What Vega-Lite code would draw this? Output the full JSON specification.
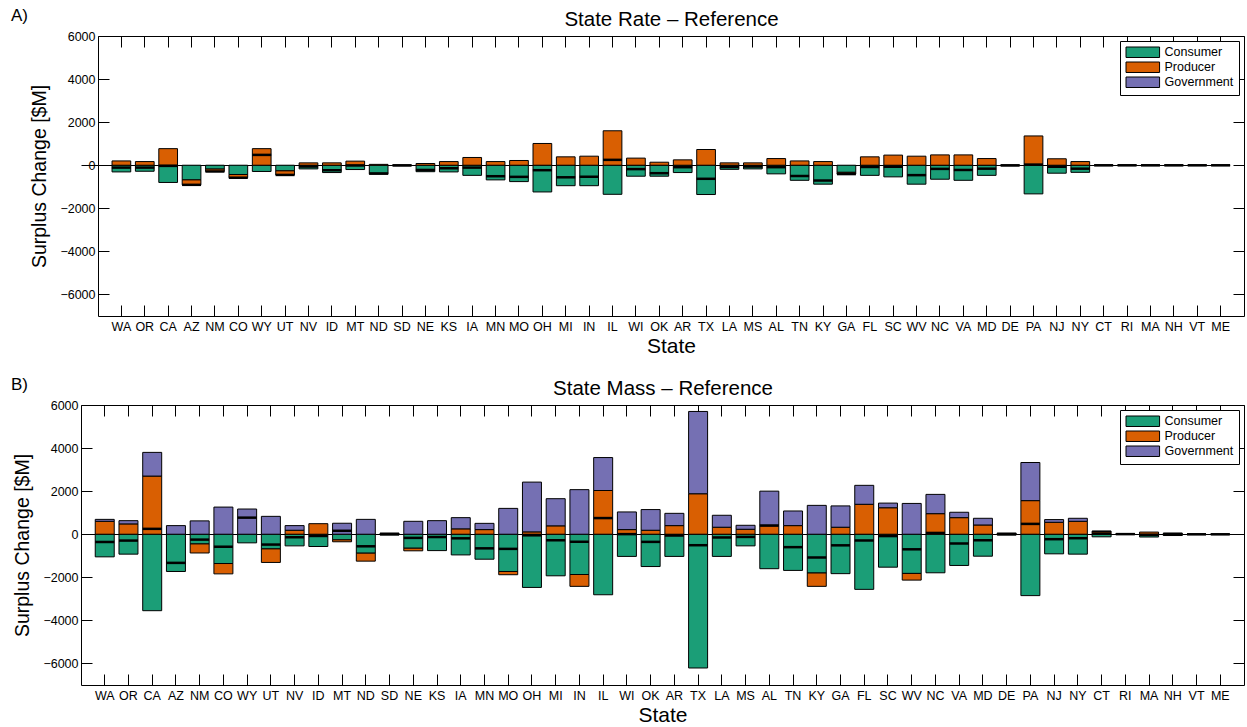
{
  "$schema": "https://vega.github.io/schema/vega-lite/v6.json",
  "padding": {"left": 11, "top": 6, "right": 1, "bottom": 0},
  "config": {
    "font": "Liberation Sans",
    "view": {"stroke": null},
    "axis": {
      "domainColor": "#000", "domainWidth": 1,
      "tickColor": "#000", "tickWidth": 1, "tickSize": -11,
      "labelColor": "#000", "labelFontSize": 12.5, "labelFont": "Liberation Sans",
      "titleColor": "#000", "titleFontWeight": "normal", "titleFont": "Liberation Sans",
      "grid": false
    },
    "legend": {
      "orient": "top-right", "offset": 5, "padding": 5,
      "fillColor": "#fff", "strokeColor": "#000", "strokeWidth": 1, "cornerRadius": 0,
      "title": null, "labelFontSize": 12.5, "labelColor": "#000", "labelFont": "Liberation Sans",
      "symbolType": "M-1,-1H5.4V1H-1Z", "symbolSize": 110,
      "symbolStrokeColor": "#000", "symbolStrokeWidth": 1, "symbolOpacity": 1,
      "labelOffset": 27, "rowPadding": 0
    },
    "title": {"color": "#000", "fontWeight": "normal", "font": "Liberation Sans"}
  },
  "data": {
    "values": [
      {"panel": "A", "state": "WA", "component": "Consumer", "value": -310}, {"panel": "A", "state": "WA", "component": "Producer", "value": 200},
      {"panel": "A", "state": "OR", "component": "Consumer", "value": -280}, {"panel": "A", "state": "OR", "component": "Producer", "value": 170},
      {"panel": "A", "state": "CA", "component": "Consumer", "value": -800}, {"panel": "A", "state": "CA", "component": "Producer", "value": 770},
      {"panel": "A", "state": "AZ", "component": "Consumer", "value": -680}, {"panel": "A", "state": "AZ", "component": "Producer", "value": -230},
      {"panel": "A", "state": "NM", "component": "Consumer", "value": -180}, {"panel": "A", "state": "NM", "component": "Producer", "value": -110},
      {"panel": "A", "state": "CO", "component": "Consumer", "value": -430}, {"panel": "A", "state": "CO", "component": "Producer", "value": -150},
      {"panel": "A", "state": "WY", "component": "Consumer", "value": -290}, {"panel": "A", "state": "WY", "component": "Producer", "value": 770},
      {"panel": "A", "state": "UT", "component": "Consumer", "value": -260}, {"panel": "A", "state": "UT", "component": "Producer", "value": -190},
      {"panel": "A", "state": "NV", "component": "Consumer", "value": -170}, {"panel": "A", "state": "NV", "component": "Producer", "value": 110},
      {"panel": "A", "state": "ID", "component": "Consumer", "value": -340}, {"panel": "A", "state": "ID", "component": "Producer", "value": 110},
      {"panel": "A", "state": "MT", "component": "Consumer", "value": -200}, {"panel": "A", "state": "MT", "component": "Producer", "value": 190},
      {"panel": "A", "state": "ND", "component": "Consumer", "value": -420}, {"panel": "A", "state": "ND", "component": "Producer", "value": 40},
      {"panel": "A", "state": "SD", "component": "Consumer", "value": -20}, {"panel": "A", "state": "SD", "component": "Producer", "value": 10},
      {"panel": "A", "state": "NE", "component": "Consumer", "value": -300}, {"panel": "A", "state": "NE", "component": "Producer", "value": 80},
      {"panel": "A", "state": "KS", "component": "Consumer", "value": -310}, {"panel": "A", "state": "KS", "component": "Producer", "value": 170},
      {"panel": "A", "state": "IA", "component": "Consumer", "value": -470}, {"panel": "A", "state": "IA", "component": "Producer", "value": 360},
      {"panel": "A", "state": "MN", "component": "Consumer", "value": -680}, {"panel": "A", "state": "MN", "component": "Producer", "value": 170},
      {"panel": "A", "state": "MO", "component": "Consumer", "value": -760}, {"panel": "A", "state": "MO", "component": "Producer", "value": 220},
      {"panel": "A", "state": "OH", "component": "Consumer", "value": -1240}, {"panel": "A", "state": "OH", "component": "Producer", "value": 1010},
      {"panel": "A", "state": "MI", "component": "Consumer", "value": -950}, {"panel": "A", "state": "MI", "component": "Producer", "value": 390},
      {"panel": "A", "state": "IN", "component": "Consumer", "value": -950}, {"panel": "A", "state": "IN", "component": "Producer", "value": 420},
      {"panel": "A", "state": "IL", "component": "Consumer", "value": -1350}, {"panel": "A", "state": "IL", "component": "Producer", "value": 1600},
      {"panel": "A", "state": "WI", "component": "Consumer", "value": -510}, {"panel": "A", "state": "WI", "component": "Producer", "value": 330},
      {"panel": "A", "state": "OK", "component": "Consumer", "value": -510}, {"panel": "A", "state": "OK", "component": "Producer", "value": 140},
      {"panel": "A", "state": "AR", "component": "Consumer", "value": -340}, {"panel": "A", "state": "AR", "component": "Producer", "value": 250},
      {"panel": "A", "state": "TX", "component": "Consumer", "value": -1360}, {"panel": "A", "state": "TX", "component": "Producer", "value": 730},
      {"panel": "A", "state": "LA", "component": "Consumer", "value": -190}, {"panel": "A", "state": "LA", "component": "Producer", "value": 110},
      {"panel": "A", "state": "MS", "component": "Consumer", "value": -170}, {"panel": "A", "state": "MS", "component": "Producer", "value": 110},
      {"panel": "A", "state": "AL", "component": "Consumer", "value": -400}, {"panel": "A", "state": "AL", "component": "Producer", "value": 310},
      {"panel": "A", "state": "TN", "component": "Consumer", "value": -700}, {"panel": "A", "state": "TN", "component": "Producer", "value": 200},
      {"panel": "A", "state": "KY", "component": "Consumer", "value": -880}, {"panel": "A", "state": "KY", "component": "Producer", "value": 170},
      {"panel": "A", "state": "GA", "component": "Consumer", "value": -330}, {"panel": "A", "state": "GA", "component": "Producer", "value": -80},
      {"panel": "A", "state": "FL", "component": "Consumer", "value": -470}, {"panel": "A", "state": "FL", "component": "Producer", "value": 390},
      {"panel": "A", "state": "SC", "component": "Consumer", "value": -540}, {"panel": "A", "state": "SC", "component": "Producer", "value": 470},
      {"panel": "A", "state": "WV", "component": "Consumer", "value": -880}, {"panel": "A", "state": "WV", "component": "Producer", "value": 420},
      {"panel": "A", "state": "NC", "component": "Consumer", "value": -650}, {"panel": "A", "state": "NC", "component": "Producer", "value": 480},
      {"panel": "A", "state": "VA", "component": "Consumer", "value": -700}, {"panel": "A", "state": "VA", "component": "Producer", "value": 480},
      {"panel": "A", "state": "MD", "component": "Consumer", "value": -470}, {"panel": "A", "state": "MD", "component": "Producer", "value": 310},
      {"panel": "A", "state": "DE", "component": "Consumer", "value": -20}, {"panel": "A", "state": "DE", "component": "Producer", "value": 10},
      {"panel": "A", "state": "PA", "component": "Consumer", "value": -1330}, {"panel": "A", "state": "PA", "component": "Producer", "value": 1360},
      {"panel": "A", "state": "NJ", "component": "Consumer", "value": -370}, {"panel": "A", "state": "NJ", "component": "Producer", "value": 300},
      {"panel": "A", "state": "NY", "component": "Consumer", "value": -330}, {"panel": "A", "state": "NY", "component": "Producer", "value": 170},
      {"panel": "A", "state": "CT", "component": "Consumer", "value": -15}, {"panel": "A", "state": "CT", "component": "Producer", "value": 10},
      {"panel": "A", "state": "RI", "component": "Consumer", "value": -10}, {"panel": "A", "state": "RI", "component": "Producer", "value": 5},
      {"panel": "A", "state": "MA", "component": "Consumer", "value": -15}, {"panel": "A", "state": "MA", "component": "Producer", "value": 10},
      {"panel": "A", "state": "NH", "component": "Consumer", "value": -15}, {"panel": "A", "state": "NH", "component": "Producer", "value": 10},
      {"panel": "A", "state": "VT", "component": "Consumer", "value": -10}, {"panel": "A", "state": "VT", "component": "Producer", "value": 5},
      {"panel": "A", "state": "ME", "component": "Consumer", "value": -10}, {"panel": "A", "state": "ME", "component": "Producer", "value": 5},

      {"panel": "B", "state": "WA", "component": "Consumer", "value": -1050}, {"panel": "B", "state": "WA", "component": "Producer", "value": 600}, {"panel": "B", "state": "WA", "component": "Government", "value": 90},
      {"panel": "B", "state": "OR", "component": "Consumer", "value": -925}, {"panel": "B", "state": "OR", "component": "Producer", "value": 480}, {"panel": "B", "state": "OR", "component": "Government", "value": 150},
      {"panel": "B", "state": "CA", "component": "Consumer", "value": -3550}, {"panel": "B", "state": "CA", "component": "Producer", "value": 2700}, {"panel": "B", "state": "CA", "component": "Government", "value": 1100},
      {"panel": "B", "state": "AZ", "component": "Consumer", "value": -1730}, {"panel": "B", "state": "AZ", "component": "Government", "value": 400},
      {"panel": "B", "state": "NM", "component": "Consumer", "value": -450}, {"panel": "B", "state": "NM", "component": "Producer", "value": -420}, {"panel": "B", "state": "NM", "component": "Government", "value": 620},
      {"panel": "B", "state": "CO", "component": "Consumer", "value": -1360}, {"panel": "B", "state": "CO", "component": "Producer", "value": -480}, {"panel": "B", "state": "CO", "component": "Government", "value": 1260},
      {"panel": "B", "state": "WY", "component": "Consumer", "value": -400}, {"panel": "B", "state": "WY", "component": "Government", "value": 1170},
      {"panel": "B", "state": "UT", "component": "Consumer", "value": -680}, {"panel": "B", "state": "UT", "component": "Producer", "value": -630}, {"panel": "B", "state": "UT", "component": "Government", "value": 830},
      {"panel": "B", "state": "NV", "component": "Consumer", "value": -540}, {"panel": "B", "state": "NV", "component": "Producer", "value": 185}, {"panel": "B", "state": "NV", "component": "Government", "value": 215},
      {"panel": "B", "state": "ID", "component": "Consumer", "value": -570}, {"panel": "B", "state": "ID", "component": "Producer", "value": 490},
      {"panel": "B", "state": "MT", "component": "Consumer", "value": -260}, {"panel": "B", "state": "MT", "component": "Producer", "value": -90}, {"panel": "B", "state": "MT", "component": "Government", "value": 510},
      {"panel": "B", "state": "ND", "component": "Consumer", "value": -880}, {"panel": "B", "state": "ND", "component": "Producer", "value": -370}, {"panel": "B", "state": "ND", "component": "Government", "value": 690},
      {"panel": "B", "state": "SD", "component": "Consumer", "value": -40}, {"panel": "B", "state": "SD", "component": "Producer", "value": 10}, {"panel": "B", "state": "SD", "component": "Government", "value": 40},
      {"panel": "B", "state": "NE", "component": "Consumer", "value": -650}, {"panel": "B", "state": "NE", "component": "Producer", "value": -120}, {"panel": "B", "state": "NE", "component": "Government", "value": 600},
      {"panel": "B", "state": "KS", "component": "Consumer", "value": -760}, {"panel": "B", "state": "KS", "component": "Government", "value": 630},
      {"panel": "B", "state": "IA", "component": "Consumer", "value": -960}, {"panel": "B", "state": "IA", "component": "Producer", "value": 250}, {"panel": "B", "state": "IA", "component": "Government", "value": 520},
      {"panel": "B", "state": "MN", "component": "Consumer", "value": -1160}, {"panel": "B", "state": "MN", "component": "Producer", "value": 215}, {"panel": "B", "state": "MN", "component": "Government", "value": 290},
      {"panel": "B", "state": "MO", "component": "Consumer", "value": -1730}, {"panel": "B", "state": "MO", "component": "Producer", "value": -150}, {"panel": "B", "state": "MO", "component": "Government", "value": 1200},
      {"panel": "B", "state": "OH", "component": "Consumer", "value": -2470}, {"panel": "B", "state": "OH", "component": "Producer", "value": 110}, {"panel": "B", "state": "OH", "component": "Government", "value": 2310},
      {"panel": "B", "state": "MI", "component": "Consumer", "value": -1930}, {"panel": "B", "state": "MI", "component": "Producer", "value": 390}, {"panel": "B", "state": "MI", "component": "Government", "value": 1260},
      {"panel": "B", "state": "IN", "component": "Consumer", "value": -1870}, {"panel": "B", "state": "IN", "component": "Producer", "value": -550}, {"panel": "B", "state": "IN", "component": "Government", "value": 2070},
      {"panel": "B", "state": "IL", "component": "Consumer", "value": -2810}, {"panel": "B", "state": "IL", "component": "Producer", "value": 2030}, {"panel": "B", "state": "IL", "component": "Government", "value": 1530},
      {"panel": "B", "state": "WI", "component": "Consumer", "value": -1030}, {"panel": "B", "state": "WI", "component": "Producer", "value": 215}, {"panel": "B", "state": "WI", "component": "Government", "value": 820},
      {"panel": "B", "state": "OK", "component": "Consumer", "value": -1500}, {"panel": "B", "state": "OK", "component": "Producer", "value": 185}, {"panel": "B", "state": "OK", "component": "Government", "value": 960},
      {"panel": "B", "state": "AR", "component": "Consumer", "value": -1030}, {"panel": "B", "state": "AR", "component": "Producer", "value": 400}, {"panel": "B", "state": "AR", "component": "Government", "value": 570},
      {"panel": "B", "state": "TX", "component": "Consumer", "value": -6210}, {"panel": "B", "state": "TX", "component": "Producer", "value": 1880}, {"panel": "B", "state": "TX", "component": "Government", "value": 3820},
      {"panel": "B", "state": "LA", "component": "Consumer", "value": -1030}, {"panel": "B", "state": "LA", "component": "Producer", "value": 325}, {"panel": "B", "state": "LA", "component": "Government", "value": 555},
      {"panel": "B", "state": "MS", "component": "Consumer", "value": -540}, {"panel": "B", "state": "MS", "component": "Producer", "value": 230}, {"panel": "B", "state": "MS", "component": "Government", "value": 185},
      {"panel": "B", "state": "AL", "component": "Consumer", "value": -1600}, {"panel": "B", "state": "AL", "component": "Producer", "value": 420}, {"panel": "B", "state": "AL", "component": "Government", "value": 1580},
      {"panel": "B", "state": "TN", "component": "Consumer", "value": -1680}, {"panel": "B", "state": "TN", "component": "Producer", "value": 400}, {"panel": "B", "state": "TN", "component": "Government", "value": 680},
      {"panel": "B", "state": "KY", "component": "Consumer", "value": -1800}, {"panel": "B", "state": "KY", "component": "Producer", "value": -620}, {"panel": "B", "state": "KY", "component": "Government", "value": 1340},
      {"panel": "B", "state": "GA", "component": "Consumer", "value": -1830}, {"panel": "B", "state": "GA", "component": "Producer", "value": 325}, {"panel": "B", "state": "GA", "component": "Government", "value": 990},
      {"panel": "B", "state": "FL", "component": "Consumer", "value": -2560}, {"panel": "B", "state": "FL", "component": "Producer", "value": 1390}, {"panel": "B", "state": "FL", "component": "Government", "value": 880},
      {"panel": "B", "state": "SC", "component": "Consumer", "value": -1530}, {"panel": "B", "state": "SC", "component": "Producer", "value": 1230}, {"panel": "B", "state": "SC", "component": "Government", "value": 215},
      {"panel": "B", "state": "WV", "component": "Consumer", "value": -1820}, {"panel": "B", "state": "WV", "component": "Producer", "value": -310}, {"panel": "B", "state": "WV", "component": "Government", "value": 1430},
      {"panel": "B", "state": "NC", "component": "Consumer", "value": -1790}, {"panel": "B", "state": "NC", "component": "Producer", "value": 955}, {"panel": "B", "state": "NC", "component": "Government", "value": 895},
      {"panel": "B", "state": "VA", "component": "Consumer", "value": -1450}, {"panel": "B", "state": "VA", "component": "Producer", "value": 770}, {"panel": "B", "state": "VA", "component": "Government", "value": 250},
      {"panel": "B", "state": "MD", "component": "Consumer", "value": -1020}, {"panel": "B", "state": "MD", "component": "Producer", "value": 430}, {"panel": "B", "state": "MD", "component": "Government", "value": 310},
      {"panel": "B", "state": "DE", "component": "Consumer", "value": -40}, {"panel": "B", "state": "DE", "component": "Producer", "value": 20}, {"panel": "B", "state": "DE", "component": "Government", "value": 30},
      {"panel": "B", "state": "PA", "component": "Consumer", "value": -2850}, {"panel": "B", "state": "PA", "component": "Producer", "value": 1560}, {"panel": "B", "state": "PA", "component": "Government", "value": 1770},
      {"panel": "B", "state": "NJ", "component": "Consumer", "value": -910}, {"panel": "B", "state": "NJ", "component": "Producer", "value": 555}, {"panel": "B", "state": "NJ", "component": "Government", "value": 125},
      {"panel": "B", "state": "NY", "component": "Consumer", "value": -925}, {"panel": "B", "state": "NY", "component": "Producer", "value": 600}, {"panel": "B", "state": "NY", "component": "Government", "value": 140},
      {"panel": "B", "state": "CT", "component": "Consumer", "value": -120}, {"panel": "B", "state": "CT", "component": "Producer", "value": 130}, {"panel": "B", "state": "CT", "component": "Government", "value": 20},
      {"panel": "B", "state": "RI", "component": "Consumer", "value": -10}, {"panel": "B", "state": "RI", "component": "Producer", "value": 10}, {"panel": "B", "state": "RI", "component": "Government", "value": 5},
      {"panel": "B", "state": "MA", "component": "Consumer", "value": -130}, {"panel": "B", "state": "MA", "component": "Producer", "value": 100},
      {"panel": "B", "state": "NH", "component": "Consumer", "value": -60}, {"panel": "B", "state": "NH", "component": "Producer", "value": 40}, {"panel": "B", "state": "NH", "component": "Government", "value": 10},
      {"panel": "B", "state": "VT", "component": "Consumer", "value": -10}, {"panel": "B", "state": "VT", "component": "Producer", "value": 5},
      {"panel": "B", "state": "ME", "component": "Consumer", "value": -10}, {"panel": "B", "state": "ME", "component": "Producer", "value": 5}
    ]
  },
  "spacing": 18,
  "resolve": {"scale": {"color": "independent"}, "legend": {"color": "independent"}},
  "vconcat": [
    {
      "width": 1163, "height": 280,
      "title": {"text": "A)", "anchor": "start", "frame": "group", "dx": -70, "offset": -15, "fontSize": 17},
      "transform": [{"filter": "datum.panel === 'A'"}],
      "layer": [
        {
          "transform": [{"calculate": "indexof(['Consumer','Producer','Government'], datum.component)", "as": "stackOrder"}],
          "mark": {"type": "bar", "stroke": "#000", "strokeWidth": 1},
          "encoding": {
            "x": {"field": "state", "type": "nominal",
              "scale": {"domain": ["WA","OR","CA","AZ","NM","CO","WY","UT","NV","ID","MT","ND","SD","NE","KS","IA","MN","MO","OH","MI","IN","IL","WI","OK","AR","TX","LA","MS","AL","TN","KY","GA","FL","SC","WV","NC","VA","MD","DE","PA","NJ","NY","CT","RI","MA","NH","VT","ME"], "range": [17, 1163], "paddingInner": 0.2, "paddingOuter": 0.6},
              "axis": {"orient": "bottom", "title": "State", "titleFontSize": 21, "titlePadding": 3, "labelAngle": 0, "labelPadding": 15}},
            "y": {"field": "value", "type": "quantitative", "stack": "zero",
              "scale": {"domain": [-7000, 6000], "nice": false, "zero": false},
              "axis": {"orient": "left", "offset": -17, "values": [-6000, -4000, -2000, 0, 2000, 4000, 6000], "format": "d", "labelPadding": 14, "title": "Surplus Change [$M]", "titleFontSize": 19.5, "titlePadding": 10}},
            "color": {"field": "component", "type": "nominal",
              "scale": {"domain": ["Consumer", "Producer", "Government"], "range": ["#1b9e77", "#d95f02", "#7570b3"]},
              "legend": {"orient": "top-right"}},
            "order": {"field": "stackOrder", "type": "quantitative", "sort": "ascending"}
          }
        },
        {
          "transform": [{"aggregate": [{"op": "sum", "field": "value", "as": "net"}], "groupby": ["state"]}],
          "mark": {"type": "tick", "color": "#000", "thickness": 2.5, "size": 19, "opacity": 1},
          "encoding": {
            "x": {"field": "state", "type": "nominal",
              "axis": {"orient": "top", "labels": false, "title": "State Rate – Reference", "titleFontSize": 20.5, "titlePadding": 6}},
            "y": {"field": "net", "type": "quantitative",
              "axis": {"orient": "right", "labels": false, "title": null, "values": [-6000, -4000, -2000, 0, 2000, 4000, 6000],
                "grid": true, "gridColor": "#000", "gridWidth": 1,
                "gridOpacity": {"condition": {"test": "datum.value === 0", "value": 1}, "value": 0}}}
          }
        }
      ],
      "resolve": {"axis": {"x": "independent", "y": "independent"}}
    },
    {
      "width": 1163, "height": 280,
      "title": {"text": "B)", "anchor": "start", "frame": "group", "dx": -70, "offset": -15, "fontSize": 17},
      "transform": [{"filter": "datum.panel === 'B'"}],
      "layer": [
        {
          "transform": [{"calculate": "indexof(['Consumer','Producer','Government'], datum.component)", "as": "stackOrder"}],
          "mark": {"type": "bar", "stroke": "#000", "strokeWidth": 1},
          "encoding": {
            "x": {"field": "state", "type": "nominal",
              "scale": {"domain": ["WA","OR","CA","AZ","NM","CO","WY","UT","NV","ID","MT","ND","SD","NE","KS","IA","MN","MO","OH","MI","IN","IL","WI","OK","AR","TX","LA","MS","AL","TN","KY","GA","FL","SC","WV","NC","VA","MD","DE","PA","NJ","NY","CT","RI","MA","NH","VT","ME"], "paddingInner": 0.2, "paddingOuter": 0.6},
              "axis": {"orient": "bottom", "title": "State", "titleFontSize": 21, "titlePadding": 3, "labelAngle": 0, "labelPadding": 15}},
            "y": {"field": "value", "type": "quantitative", "stack": "zero",
              "scale": {"domain": [-7000, 6000], "nice": false, "zero": false},
              "axis": {"orient": "left", "values": [-6000, -4000, -2000, 0, 2000, 4000, 6000], "format": "d", "labelPadding": 14, "title": "Surplus Change [$M]", "titleFontSize": 19.5, "titlePadding": 10}},
            "color": {"field": "component", "type": "nominal",
              "scale": {"domain": ["Consumer", "Producer", "Government"], "range": ["#1b9e77", "#d95f02", "#7570b3"]},
              "legend": {"orient": "top-right"}},
            "order": {"field": "stackOrder", "type": "quantitative", "sort": "ascending"}
          }
        },
        {
          "transform": [{"aggregate": [{"op": "sum", "field": "value", "as": "net"}], "groupby": ["state"]}],
          "mark": {"type": "tick", "color": "#000", "thickness": 2.5, "size": 19, "opacity": 1},
          "encoding": {
            "x": {"field": "state", "type": "nominal",
              "axis": {"orient": "top", "labels": false, "title": "State Mass – Reference", "titleFontSize": 20.5, "titlePadding": 6}},
            "y": {"field": "net", "type": "quantitative",
              "axis": {"orient": "right", "labels": false, "title": null, "values": [-6000, -4000, -2000, 0, 2000, 4000, 6000],
                "grid": true, "gridColor": "#000", "gridWidth": 1,
                "gridOpacity": {"condition": {"test": "datum.value === 0", "value": 1}, "value": 0}}}
          }
        }
      ],
      "resolve": {"axis": {"x": "independent", "y": "independent"}}
    }
  ]
}
